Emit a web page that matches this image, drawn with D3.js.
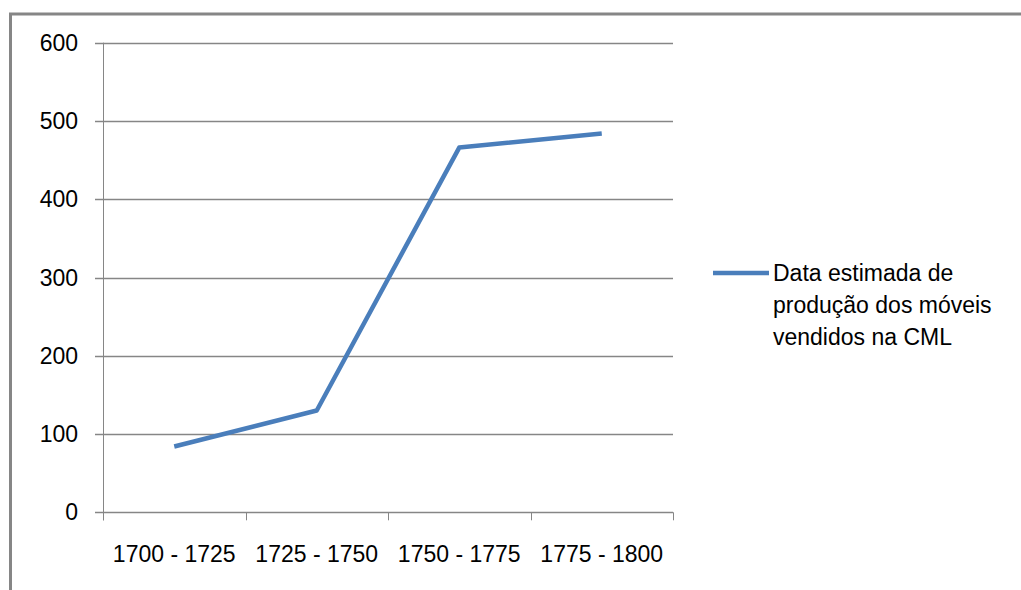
<!DOCTYPE html>
<html lang="pt">

<head>
    <meta charset="UTF-8">
    <style>
        body {
            margin: 0;
            background: #fff;
        }
    </style>
    <script src="https://cdnjs.cloudflare.com/ajax/libs/d3/7.8.5/d3.min.js"></script>
    <title>Chart</title>
</head>

<body>
    <div id="chart"></div>
    <script>
        var categories = ['1700 - 1725', '1725 - 1750', '1750 - 1775', '1775 - 1800'];
        var values = [84, 130, 466, 484];
        var yTicks = [0, 100, 200, 300, 400, 500, 600];
        var seriesName = ['Data estimada de', 'produção dos móveis', 'vendidos na CML'];

        function drawChart() {
            var width = 1021,
                height = 590,
                font = '"Liberation Sans", Arial, sans-serif';

            var svg = d3.select('#chart')
                .append('svg')
                .attr('width', width)
                .attr('height', height);

            // outer frame (only top & left visible in the crop)
            svg.append('rect')
                .attr('x', 10.5)
                .attr('y', 14)
                .attr('width', width + 20)
                .attr('height', height + 20)
                .attr('fill', 'none')
                .attr('stroke', '#868686')
                .attr('stroke-width', 3);

            var x = d3.scaleBand()
                .domain(categories)
                .range([103, 673]);

            var y = d3.scaleLinear()
                .domain([0, 600])
                .range([512.3, 42.7]);

            // gridlines
            svg.append('g')
                .selectAll('line')
                .data(yTicks)
                .enter()
                .append('line')
                .attr('x1', 95)
                .attr('x2', 673)
                .attr('y1', function (d) { return Math.round(y(d)) + 0.5; })
                .attr('y2', function (d) { return Math.round(y(d)) + 0.5; })
                .attr('stroke', '#868686')
                .attr('stroke-width', 1.5);

            // y axis line
            svg.append('line')
                .attr('x1', 103.5)
                .attr('x2', 103.5)
                .attr('y1', y(600))
                .attr('y2', y(0) + 8)
                .attr('stroke', '#868686')
                .attr('stroke-width', 1);

            // y labels
            svg.append('g')
                .selectAll('text')
                .data(yTicks)
                .enter()
                .append('text')
                .attr('x', 78)
                .attr('y', function (d) { return y(d); })
                .attr('dy', '0.35em')
                .attr('text-anchor', 'end')
                .style('font-family', font)
                .style('font-size', '23px')
                .attr('fill', '#000')
                .text(function (d) { return d; });

            // x tick marks
            var bounds = categories.map(function (c) { return x(c); }).concat([x.range()[1]]);
            svg.append('g')
                .selectAll('line')
                .data(bounds)
                .enter()
                .append('line')
                .attr('x1', function (d) { return Math.round(d) + 0.5; })
                .attr('x2', function (d) { return Math.round(d) + 0.5; })
                .attr('y1', y(0))
                .attr('y2', y(0) + 8)
                .attr('stroke', '#868686')
                .attr('stroke-width', 1);

            // x labels
            svg.append('g')
                .selectAll('text')
                .data(categories)
                .enter()
                .append('text')
                .attr('x', function (d) { return x(d) + x.bandwidth() / 2; })
                .attr('y', 562)
                .attr('text-anchor', 'middle')
                .style('font-family', font)
                .style('font-size', '23px')
                .attr('fill', '#000')
                .text(function (d) { return d; });

            // series line
            var line = d3.line()
                .x(function (d, i) { return x(categories[i]) + x.bandwidth() / 2; })
                .y(function (d) { return y(d); });

            svg.append('path')
                .datum(values)
                .attr('d', line)
                .attr('fill', 'none')
                .attr('stroke', '#4a7ebb')
                .attr('stroke-width', 4.5)
                .attr('stroke-linejoin', 'round');

            // legend
            var legend = svg.append('g')
                .attr('transform', 'translate(713, 273)');

            legend.append('line')
                .attr('x1', 0)
                .attr('x2', 56)
                .attr('y1', 0)
                .attr('y2', 0)
                .attr('stroke', '#4a7ebb')
                .attr('stroke-width', 4.5);

            legend.append('text')
                .attr('x', 60)
                .attr('y', 0)
                .style('font-family', font)
                .style('font-size', '23px')
                .attr('fill', '#000')
                .selectAll('tspan')
                .data(seriesName)
                .enter()
                .append('tspan')
                .attr('x', 60)
                .attr('y', function (d, i) { return i * 32; })
                .attr('dy', '0.35em')
                .text(function (d) { return d; });
        }
        drawChart();
    </script>
</body>

</html>
